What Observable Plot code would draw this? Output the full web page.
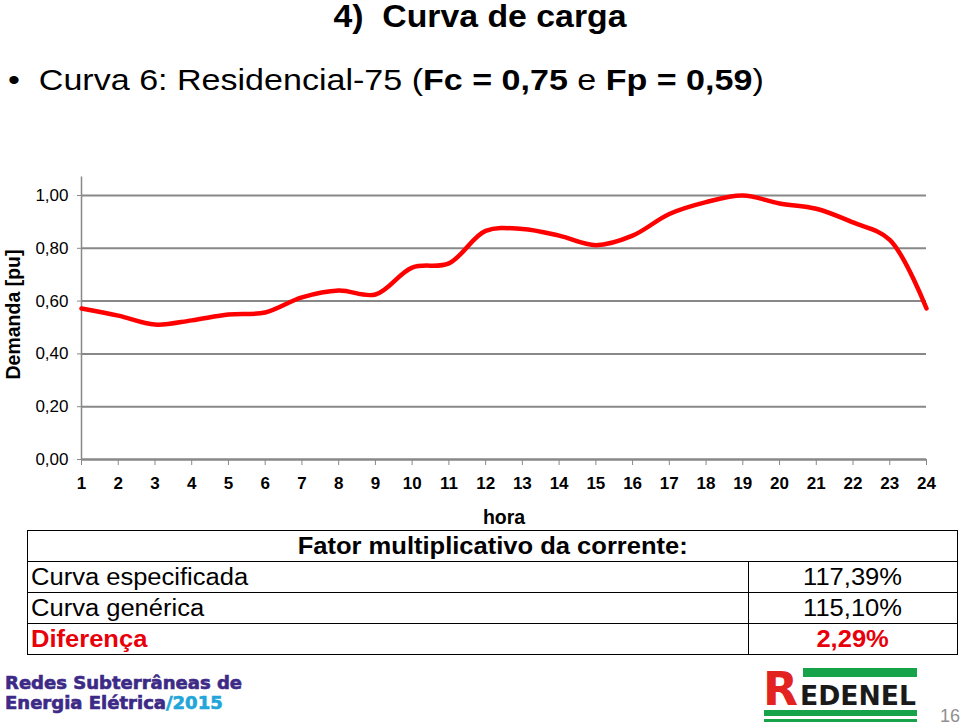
<!DOCTYPE html>
<html>
<head>
<meta charset="utf-8">
<script src="https://cdn.jsdelivr.net/npm/d3@7"></script>
<script src="https://cdn.jsdelivr.net/npm/@observablehq/plot@0.6"></script>
<style>
  html, body { margin: 0; padding: 0; background: #fff; }
  #page { position: relative; width: 960px; height: 728px; overflow: hidden; font-family: "Liberation Sans", Arial, sans-serif; color: #000; }
  .abs { position: absolute; white-space: nowrap; }
  #title { left: 0; width: 960px; top: 0px; text-align: center; font-weight: bold; font-size: 31px; line-height: 34px; transform: scaleX(1.09); }
  #subtitle { left: 8px; top: 62px; font-size: 30px; line-height: 36px; transform-origin: left center; transform: scaleX(1.135); }
  #chart { left: 0; top: 170px; }
  table { position: absolute; left: 27px; top: 530px; width: 931px; border-collapse: collapse; font-size: 23px; }
  td { border: 1.5px solid #000; padding: 0 3px; height: 30px; line-height: 29px; }
  td span { display: inline-block; transform: scaleX(1.11); transform-origin: left center; }
  .hdr { text-align: center; font-weight: bold; }
  .hdr span, .val span { transform-origin: center center; }
  .val { text-align: center; width: 202px; }
  .red { color: #e8000b; font-weight: bold; }
  .logo1 { left: 5px; font-family: "DejaVu Sans", sans-serif; font-weight: bold; font-size: 17px; line-height: 20px; height: 20px; color: #3d2a87; transform-origin: left top; transform: scaleX(1.06); -webkit-text-stroke: 0.6px currentColor; }
  .logo1 .yr { color: #22a5d8; }
  #pg { left: 940px; top: 706px; font-size: 18px; color: #909090; }
</style>
</head>
<body>
<div id="page">
  <div id="title" class="abs">4)&nbsp; Curva de carga</div>
  <div id="subtitle" class="abs">•&nbsp; Curva 6: Residencial-75 (<b>Fc = 0,75</b> e <b>Fp = 0,59</b>)</div>
  <div id="chart" class="abs"></div>
  <table>
    <tr><td class="hdr" colspan="2"><span>Fator multiplicativo da corrente:</span></td></tr>
    <tr><td><span>Curva especificada</span></td><td class="val"><span>117,39%</span></td></tr>
    <tr><td><span>Curva genérica</span></td><td class="val"><span>115,10%</span></td></tr>
    <tr><td class="red"><span>Diferença</span></td><td class="val red"><span>2,29%</span></td></tr>
  </table>
  <div class="abs logo1" style="top:673px">Redes Subterrâneas de</div>
  <div class="abs logo1" style="top:693px">Energia Elétrica<span class="yr">/2015</span></div>
  <svg class="abs" style="left:760px;top:640px" width="200" height="88">
    <g transform="translate(0,24)">
      <rect x="43" y="4" width="114" height="9" fill="#17a34a"/>
      <text x="3" y="41" font-family="DejaVu Sans, sans-serif" font-weight="bold" font-size="46" fill="#e3231f" textLength="35" lengthAdjust="spacingAndGlyphs">R</text>
      <text x="40" y="41" font-family="DejaVu Sans, sans-serif" font-weight="bold" font-size="26" fill="#1a1a1a" textLength="116" lengthAdjust="spacingAndGlyphs">EDENEL</text>
      <rect x="4" y="46" width="153" height="6" fill="#17a34a"/>
      <rect x="4" y="55" width="153" height="3" fill="#17a34a"/>
    </g>
  </svg>
  <div id="pg" class="abs">16</div>
</div>
<script>
const hours = d3.range(1, 25);
const demanda = [0.572, 0.545, 0.511, 0.527, 0.549, 0.557, 0.614, 0.640, 0.625, 0.727,
                 0.743, 0.866, 0.873, 0.848, 0.812, 0.848, 0.930, 0.975, 1.000, 0.970,
                 0.950, 0.898, 0.832, 0.572];
const yTicks = [0, 0.2, 0.4, 0.6, 0.8, 1.0];
const data = hours.map((h, i) => ({hora: h, demanda: demanda[i]}));
const fmt = v => v.toFixed(2).replace(".", ",");

const plot = Plot.plot({
  width: 960,
  height: 360,
  marginTop: 25,
  marginBottom: 71,
  marginLeft: 81,
  marginRight: 34,
  style: {fontFamily: "Liberation Sans, Arial, sans-serif", fontSize: "17px", color: "#000", background: "transparent", overflow: "visible"},
  x: {domain: [1, 24], label: null},
  y: {domain: [0, 1], label: null},
  marks: [
    Plot.gridY(yTicks, {stroke: "#888", strokeOpacity: 1, strokeWidth: 2}),
    Plot.ruleX([1], {y1: 0, y2: 1.07, stroke: "#888", strokeWidth: 1.5}),
    Plot.ruleY([0], {stroke: "#888", strokeWidth: 2}),
    Plot.axisY({ticks: yTicks, tickFormat: fmt, tickSize: 4, tickPadding: 9, stroke: "#888", fontSize: 17, label: null}),
    Plot.axisX({ticks: hours, tickFormat: d => String(d), tickSize: 6, tickPadding: 11, stroke: "#888", fontSize: 17, fontWeight: "bold", label: null}),
    Plot.line(data, {x: "hora", y: "demanda", stroke: "#ff0000", strokeWidth: 4.5, curve: "catmull-rom"}),
    Plot.text(["Demanda [pu]"], {frameAnchor: "left", textAnchor: "middle", dx: -68, dy: -13, rotate: -90, fontWeight: "bold", fontSize: 19.5}),
    Plot.text(["hora"], {frameAnchor: "bottom", dy: 64, fontWeight: "bold", fontSize: 19.5})
  ]
});
document.getElementById("chart").appendChild(plot);
</script>
</body>
</html>
